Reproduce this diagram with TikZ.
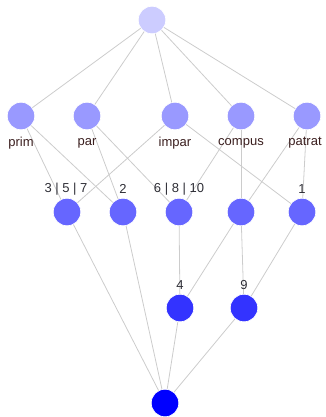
\documentclass[tikz,border=0pt]{standalone}
\usepackage{fontspec}
\setmainfont{Liberation Sans}
\definecolor{edgegray}{HTML}{CCCCCC}
\definecolor{lvlA}{HTML}{CCCCFF}
\definecolor{lvlB}{HTML}{9999FF}
\definecolor{lvlC}{HTML}{6666FF}
\definecolor{lvlD}{HTML}{3333FF}
\definecolor{lvlE}{HTML}{0000FF}
\definecolor{attrtext}{HTML}{3A1E1E}
\definecolor{objtext}{HTML}{2E2E36}
\begin{document}
\begin{tikzpicture}[x=1pt,y=-1pt,
  concept/.style={circle,inner sep=0pt,minimum size=27.5pt,draw=white,line width=0.6pt},
  link/.style={draw=edgegray,line width=0.8pt},
  attrlabel/.style={font=\fontsize{13}{15}\selectfont,text=attrtext,inner sep=0pt},
  objlabel/.style={font=\fontsize{13}{15}\selectfont,text=objtext,inner sep=0pt}]
\useasboundingbox (0,0) rectangle (326,417);

% concepts, top to bottom
\node[concept,fill=lvlA] (top) at (152,20) {};

\node[concept,fill=lvlB] (prim)   at (21,116) {};
\node[concept,fill=lvlB] (par)    at (87,116) {};
\node[concept,fill=lvlB] (impar)  at (175,116) {};
\node[concept,fill=lvlB] (compus) at (241,116) {};
\node[concept,fill=lvlB] (patrat) at (307,116) {};

\node[concept,fill=lvlC] (pi)  at (67,212) {};
\node[concept,fill=lvlC] (pp)  at (123,212) {};
\node[concept,fill=lvlC] (pc)  at (179,212) {};
\node[concept,fill=lvlC] (cq)  at (241,212) {};
\node[concept,fill=lvlC] (iq)  at (302,212) {};

\node[concept,fill=lvlD] (four) at (180,308) {};
\node[concept,fill=lvlD] (nine) at (244,308) {};

\node[concept,fill=lvlE] (bot) at (165,403) {};

% order relation
\begin{scope}[on background layer/.try]
\foreach \a/\b in {top/prim,top/par,top/impar,top/compus,top/patrat,
  prim/pi,prim/pp,par/pp,par/pc,impar/pi,impar/iq,
  compus/pc,compus/cq,patrat/cq,patrat/iq,
  pc/four,cq/four,cq/nine,iq/nine,
  pi/bot,pp/bot,four/bot,nine/bot}
  \draw[link] (\a) -- (\b);
\end{scope}

% attribute labels
\node[attrlabel] (lprim)   at (21,143)  {prim};
\node[attrlabel] (lpar)    at (87,143)  {par};
\node[attrlabel] (limpar)  at (175,143) {impar};
\node[attrlabel] (lcompus) at (241,143) {compus};
\node[attrlabel] (lpatrat) at (305,143) {patrat};

% object labels
\node[objlabel] (lpi)   at (66,189)  {3 | 5 | 7};
\node[objlabel] (lpp)   at (123,189) {2};
\node[objlabel] (lpc)   at (179,189) {6 | 8 | 10};
\node[objlabel] (liq)   at (302,189) {1};
\node[objlabel] (lfour) at (180,285) {4};
\node[objlabel] (lnine) at (244,285) {9};
\end{tikzpicture}
\end{document}
